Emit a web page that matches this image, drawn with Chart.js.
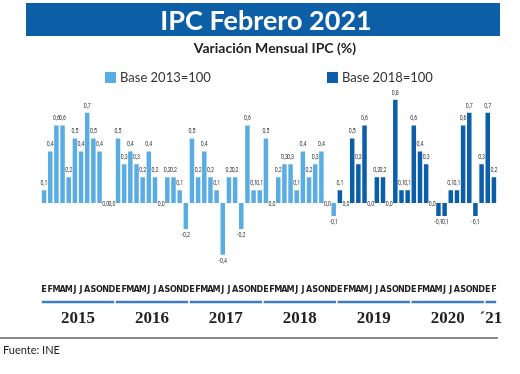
<!DOCTYPE html>
<html>
<head>
<meta charset="utf-8">
<script src="https://cdn.jsdelivr.net/npm/chart.js@4/dist/chart.umd.min.js"></script>
<style>
html, body { margin: 0; padding: 0; background: #fff; }
#wrap { width: 520px; height: 374px; }
</style>
</head>
<body>
<div id="wrap"><canvas id="ipcChart" width="520" height="374"></canvas></div>
<script>
// meses en español, E = enero ... D = diciembre
const monthLetters = ['E', 'F', 'M', 'A', 'M', 'J', 'J', 'A', 'S', 'O', 'N', 'D'];
const yearLabels = ['2015', '2016', '2017', '2018', '2019', '2020', '\u00B421'];

// variación mensual IPC (%), ene 2015 - dic 2018
const base2013 = [
    0.1, 0.4, 0.6, 0.6, 0.2, 0.5, 0.4, 0.7, 0.5, 0.4, 0.0, 0.0,
    0.5, 0.3, 0.4, 0.3, 0.2, 0.4, 0.2, 0.0, 0.2, 0.2, 0.1, -0.2,
    0.5, 0.2, 0.4, 0.2, 0.1, -0.4, 0.2, 0.2, -0.2, 0.6, 0.1, 0.1,
    0.5, 0.0, 0.2, 0.3, 0.3, 0.1, 0.4, 0.2, 0.3, 0.4, 0.0, -0.1
];
// ene 2019 - feb 2021
const base2018 = [
    0.1, 0.0, 0.5, 0.3, 0.6, 0.0, 0.2, 0.2, 0.0, 0.8, 0.1, 0.1,
    0.6, 0.4, 0.3, 0.0, -0.1, -0.1, 0.1, 0.1, 0.6, 0.7, -0.1, 0.3,
    0.7, 0.2
];

const lightBlue = '#5aade2';
const darkBlue = '#0b5fa8';
const bannerBlue = '#0c5ea7';

const nMonths = base2013.length + base2018.length;
const labels = [];
for (let i = 0; i < nMonths; i++) labels.push(monthLetters[i % 12]);

const data2013 = base2013.concat(new Array(base2018.length).fill(null));
const data2018 = new Array(base2013.length).fill(null).concat(base2018);

function fmt(v) {
    return (v < 0 ? '-' : '') + Math.abs(v).toFixed(1).replace('.', ',');
}

const decorations = {
    id: 'decorations',
    beforeDraw(chart) {
        const ctx = chart.ctx;
        ctx.save();
        ctx.fillStyle = bannerBlue;
        ctx.fillRect(26, 3, 474, 33);
        ctx.restore();
    },
    afterDatasetsDraw(chart) {
        const ctx = chart.ctx;
        ctx.save();
        ctx.fillStyle = '#333';
        ctx.font = '7.5px Roboto, sans-serif';
        ctx.textAlign = 'center';
        ctx.textBaseline = 'middle';
        chart.data.datasets.forEach((ds, i) => {
            chart.getDatasetMeta(i).data.forEach((bar, j) => {
                const v = ds.data[j];
                if (v === null) return;
                let y = bar.y + 1;
                if (v > 0) y = bar.y - 7;
                if (v < 0) y = bar.y + 6;
                ctx.save();
                ctx.translate(bar.x, y);
                ctx.scale(0.7, 1);
                ctx.fillText(fmt(v), 0, 0);
                ctx.restore();
            });
        });
        ctx.restore();
    },
    afterDraw(chart) {
        const ctx = chart.ctx;
        const x = chart.scales.x;
        ctx.save();

        // titulos
        ctx.textAlign = 'center';
        ctx.textBaseline = 'middle';
        ctx.fillStyle = '#fff';
        ctx.font = 'bold 27px Lato, sans-serif';
        ctx.fillText('IPC Febrero 2021', 266, 21);
        ctx.fillStyle = '#222';
        ctx.font = 'bold 14px Lato, sans-serif';
        ctx.fillText('Variación Mensual IPC (%)', 275, 48);

        // leyenda
        ctx.textAlign = 'left';
        ctx.font = '13px Lato, sans-serif';
        const legendX = [105, 327];
        chart.data.datasets.forEach((ds, i) => {
            ctx.fillStyle = ds.backgroundColor;
            ctx.fillRect(legendX[i], 72, 11, 11);
            ctx.fillStyle = '#333';
            ctx.fillText(ds.label, legendX[i] + 15, 78);
        });

        // años
        const half = x.getPixelForValue(1) - x.getPixelForValue(0);
        ctx.textAlign = 'center';
        ctx.font = 'bold 17px "Liberation Serif", serif';
        yearLabels.forEach((yr, k) => {
            const first = k * 12;
            const last = Math.min(k * 12 + 11, nMonths - 1);
            const x0 = x.getPixelForValue(first) - half * 0.37;
            const x1 = x.getPixelForValue(last) + half * 0.37;
            ctx.strokeStyle = '#3a7fc1';
            ctx.lineWidth = 2.5;
            ctx.beginPath();
            ctx.moveTo(x0, 302);
            ctx.lineTo(x1, 302);
            ctx.stroke();
            ctx.fillStyle = '#222';
            ctx.fillText(yr, (x0 + x1) / 2, 319);
        });

        // fuente
        ctx.strokeStyle = '#666';
        ctx.lineWidth = 1.5;
        ctx.beginPath();
        ctx.moveTo(0, 338);
        ctx.lineTo(498, 338);
        ctx.stroke();
        ctx.textAlign = 'left';
        ctx.fillStyle = '#222';
        ctx.font = '11px Lato, sans-serif';
        ctx.fillText('Fuente: INE', 3, 350);
        ctx.restore();
    }
};

new Chart(document.getElementById('ipcChart').getContext('2d'), {
    type: 'bar',
    data: {
        labels: labels,
        datasets: [
            {
                label: 'Base 2013=100',
                data: data2013,
                backgroundColor: lightBlue,
            },
            {
                label: 'Base 2018=100',
                data: data2018,
                backgroundColor: darkBlue,
            }
        ]
    },
    options: {
        responsive: false,
        animation: false,
        layout: {
            padding: { top: 92, left: 41, right: 23, bottom: 65 }
        },
        datasets: {
            bar: {
                grouped: false,
                barPercentage: 0.73,
                categoryPercentage: 1,
            }
        },
        plugins: {
            legend: { display: false },
            title: { display: false },
            tooltip: { enabled: false },
        },
        scales: {
            x: {
                grid: { display: false, drawTicks: false },
                border: { display: false },
                ticks: {
                    autoSkip: false,
                    maxRotation: 0,
                    padding: 14,
                    color: '#222',
                    font: { family: '"Liberation Sans Narrow", "DejaVu Sans Condensed", Roboto, sans-serif', size: 9, weight: 'bold' },
                }
            },
            y: {
                display: false,
                min: -0.52,
                max: 0.86,
            }
        }
    },
    plugins: [decorations]
});
</script>
</body>
</html>
